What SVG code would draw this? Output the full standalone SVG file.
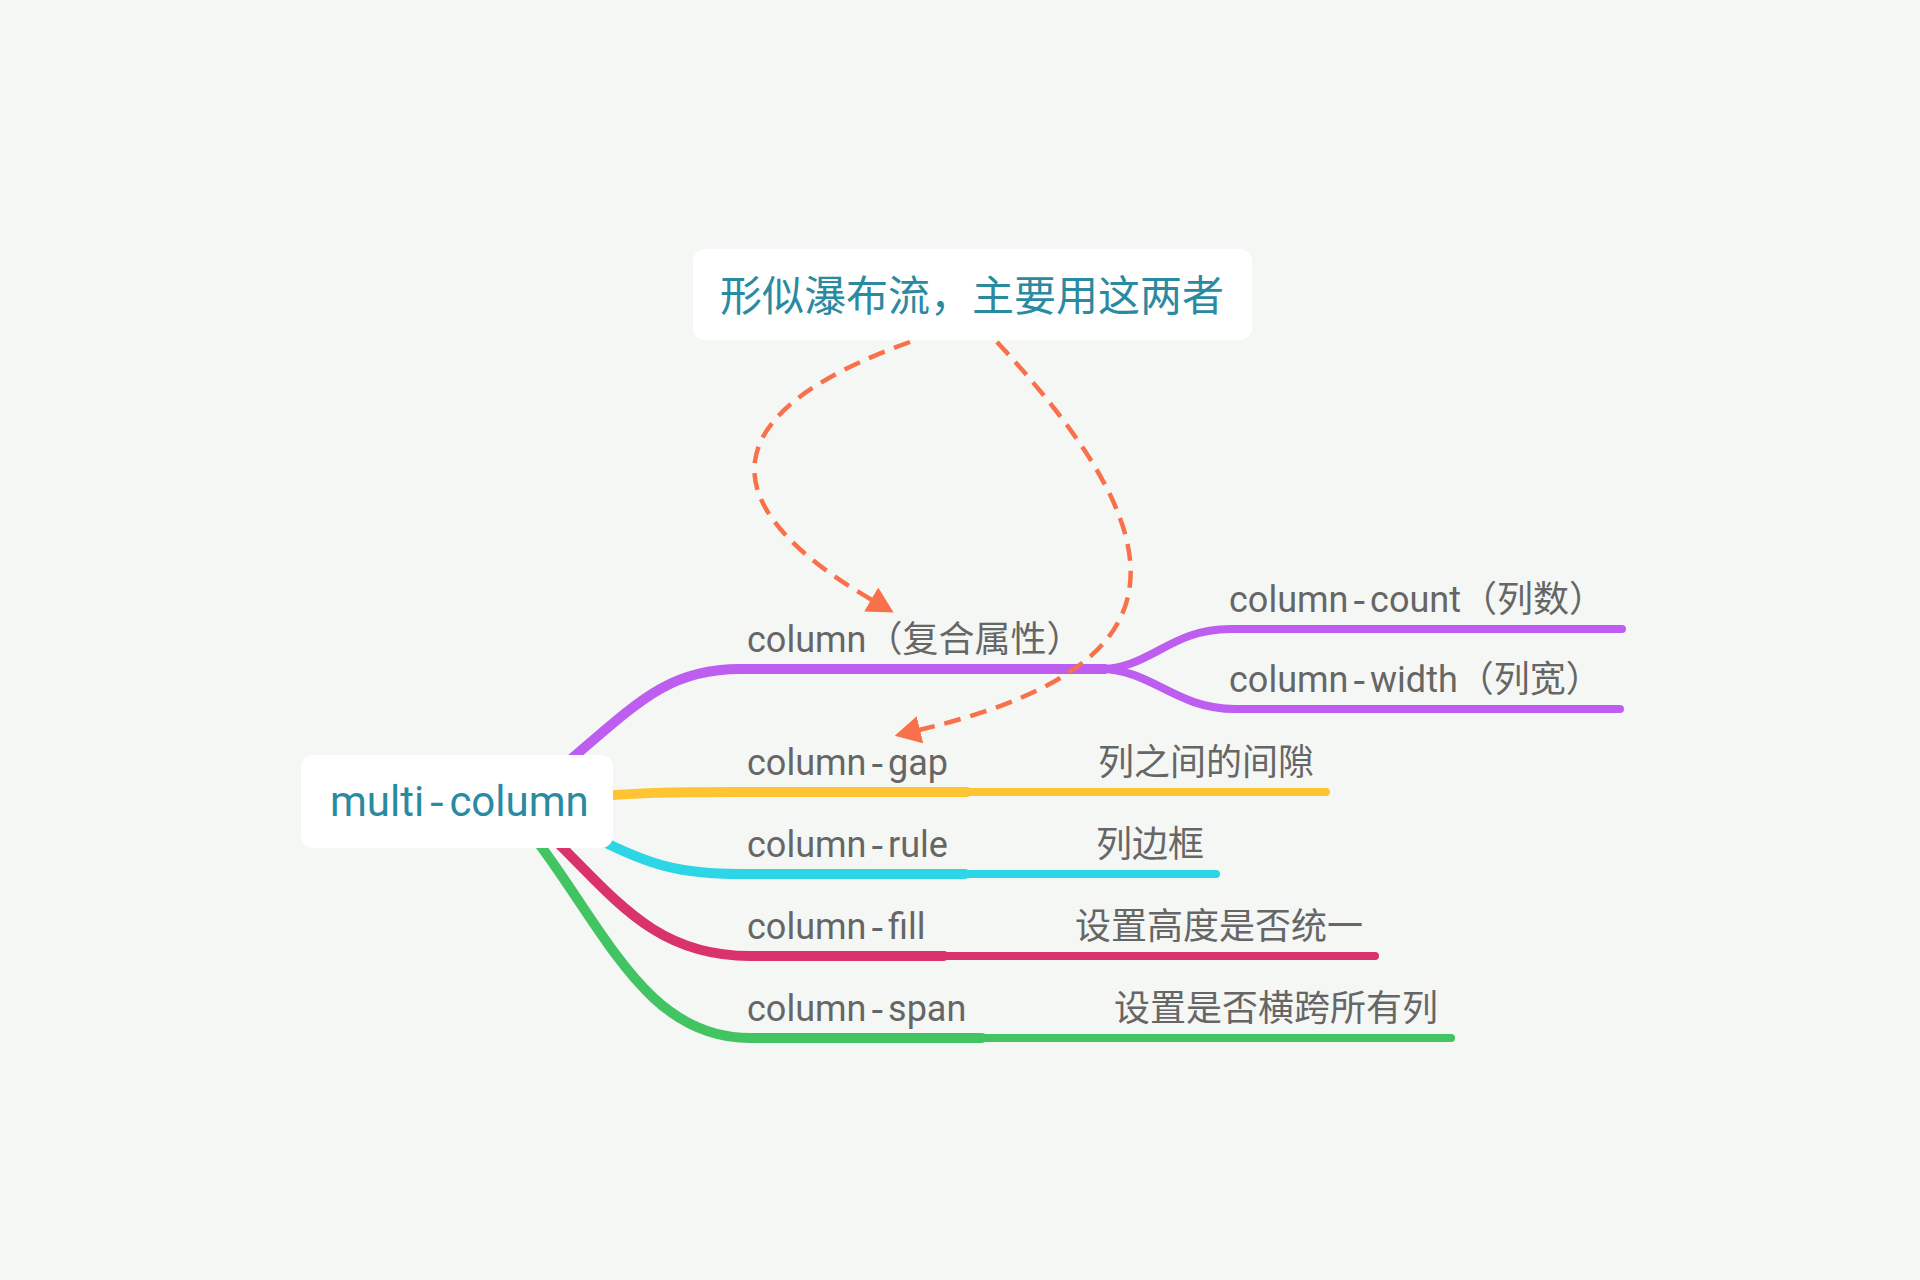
<svg xmlns="http://www.w3.org/2000/svg" width="1920" height="1280" viewBox="0 0 1920 1280">
<style>
.bg{fill:#f5f7f4}
.box{fill:#ffffff}
.title{font-family:Roboto,"Noto Sans CJK SC",sans-serif;font-size:42px;fill:#2a8aa0}
.lbl{font-family:Roboto,"Noto Sans CJK SC",sans-serif;font-size:36px;fill:#666666}
.d{font-family:"Liberation Mono",monospace}
.br{fill:none;stroke-linecap:round;stroke-width:10}
.sub{fill:none;stroke-linecap:round;stroke-width:8}
.rel{fill:none;stroke:#f8714a;stroke-width:4.5;stroke-dasharray:17 10}
</style>
<defs>
<marker id="arr" markerUnits="userSpaceOnUse" markerWidth="26" markerHeight="28" viewBox="0 0 26 28" refX="1" refY="14" orient="auto">
<path d="M0,0 L26,14 L0,28 Z" fill="#f8714a"/>
</marker>
</defs>
<rect class="bg" x="0" y="0" width="1920" height="1280"/>
<g id="connectors">
<path class="br" stroke="#bd5ef0" d="M570 760 C 640 700, 670 669, 740 669 L 1105 669"/>
<path class="sub" stroke="#bd5ef0" d="M1100 669 C 1150 669, 1170 629, 1230 629 L 1622 629"/>
<path class="sub" stroke="#bd5ef0" d="M1100 669 C 1152 669, 1175 709, 1235 709 L 1620 709"/>
<path class="br" stroke="#ffc431" d="M600 796 C 640 793, 660 792, 740 792 L 967 792"/>
<path class="sub" stroke="#ffc431" d="M960 792 L 1326 792"/>
<path class="br" stroke="#2dd6e6" d="M600 840 C 650 865, 680 874, 740 874 L 965 874"/>
<path class="sub" stroke="#2dd6e6" d="M958 874 L 1216 874"/>
<path class="br" stroke="#d9326c" d="M560 845 C 620 905, 660 956, 750 956 L 944 956"/>
<path class="sub" stroke="#d9326c" d="M937 956 L 1375 956"/>
<path class="br" stroke="#43c462" d="M540 845 C 610 940, 650 1038, 750 1038 L 982 1038"/>
<path class="sub" stroke="#43c462" d="M975 1038 L 1451 1038"/>
<path class="rel" marker-end="url(#arr)" d="M910 342 C 720 410, 700 500, 872 600"/>
<path class="rel" marker-end="url(#arr)" d="M997 342 C 1200 560, 1170 670, 919 730"/>
</g>
<g id="note">
<rect class="box" x="693" y="249" width="559" height="91" rx="12"/>
<text class="title" x="720" y="311">形似瀑布流，主要用这两者</text>
</g>
<g id="root">
<rect class="box" x="301" y="755" width="312" height="93" rx="12"/>
<text class="title" x="330" y="816">multi<tspan class="d">-</tspan>column</text>
</g>
<g id="n-column"><text class="lbl" x="747" y="652">column（复合属性）</text></g>
<g id="n-count"><text class="lbl" x="1229" y="612">column<tspan class="d">-</tspan>count（列数）</text></g>
<g id="n-width"><text class="lbl" x="1229" y="692">column<tspan class="d">-</tspan>width（列宽）</text></g>
<g id="n-gap"><text class="lbl" x="747" y="775">column<tspan class="d">-</tspan>gap</text></g>
<g id="n-gap-d"><text class="lbl" x="1098" y="775">列之间的间隙</text></g>
<g id="n-rule"><text class="lbl" x="747" y="857">column<tspan class="d">-</tspan>rule</text></g>
<g id="n-rule-d"><text class="lbl" x="1096" y="857">列边框</text></g>
<g id="n-fill"><text class="lbl" x="747" y="939">column<tspan class="d">-</tspan>fill</text></g>
<g id="n-fill-d"><text class="lbl" x="1075" y="939">设置高度是否统一</text></g>
<g id="n-span"><text class="lbl" x="747" y="1021">column<tspan class="d">-</tspan>span</text></g>
<g id="n-span-d"><text class="lbl" x="1114" y="1021">设置是否横跨所有列</text></g>
</svg>
